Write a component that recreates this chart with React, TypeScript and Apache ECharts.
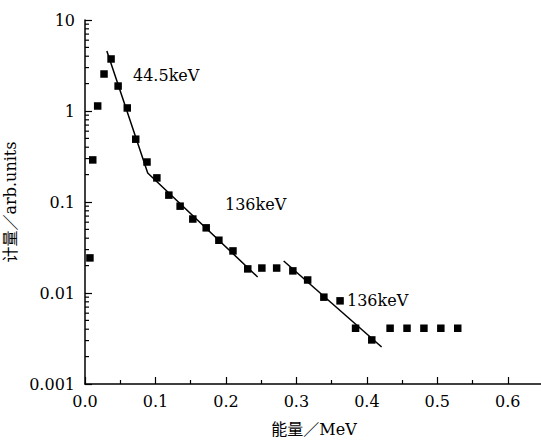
import React, { useEffect, useRef } from "react";
import * as echarts from "echarts";

const energyMeV = [
  0.007, 0.011, 0.018, 0.027, 0.037, 0.047, 0.06, 0.072, 0.088, 0.102,
  0.119, 0.135, 0.153, 0.172, 0.19, 0.21, 0.231, 0.251, 0.272, 0.295,
  0.316, 0.339, 0.362, 0.384, 0.407, 0.433, 0.457, 0.481, 0.505, 0.529,
];
const counts = [
  0.0243, 0.29, 1.135, 2.55, 3.73, 1.88, 1.08, 0.49, 0.275, 0.184,
  0.119, 0.09, 0.065, 0.052, 0.038, 0.029, 0.0184, 0.0188, 0.0188, 0.0175,
  0.0139, 0.009, 0.0082, 0.0041, 0.00305, 0.0041, 0.0041, 0.0041, 0.0041, 0.0041,
];
const fitLow: [number, number][] = [
  [0.031, 4.56],
  [0.089, 0.208],
  [0.245, 0.015],
];
const fitHigh: [number, number][] = [
  [0.282, 0.0225],
  [0.421, 0.00255],
];
const yTickValues = [0.001, 0.01, 0.1, 1, 10];
const yTickLabels = ["0.001", "0.01", "0.1", "1", "10"];
const yMinorTicks: number[] = [];
for (let d = 0; d < 4; d++) {
  for (let k = 2; k <= 9; k++) yMinorTicks.push(k * yTickValues[d]);
}
const annotations = [
  { text: "44.5keV", x: 133, y: 75 },
  { text: "136keV", x: 225, y: 204 },
  { text: "136keV", x: 347, y: 300 },
];

const FONT = "'DejaVu Serif', 'Noto Sans CJK SC', serif";

export default function App() {
  const ref = useRef<HTMLDivElement>(null);
  useEffect(() => {
    if (!ref.current) return;
    const chart = echarts.init(ref.current, null, { renderer: "svg" });
    chart.setOption({
      animation: false,
      backgroundColor: "#fff",
      grid: {
        left: 85,
        top: 20,
        width: 458,
        height: 364,
        containLabel: false,
        outerBoundsMode: "none",
      },
      xAxis: {
        type: "value",
        min: 0,
        max: 0.65,
        interval: 0.1,
        name: "能量／MeV",
        nameLocation: "middle",
        nameGap: 37,
        nameTextStyle: { fontFamily: FONT, fontSize: 16, color: "#000" },
        axisLine: { show: true, onZero: false, lineStyle: { color: "#000", width: 1.5 } },
        axisTick: { show: true, inside: true, length: 7, lineStyle: { color: "#000", width: 1.2 } },
        minorTick: { show: true, splitNumber: 2, length: 4, lineStyle: { color: "#000", width: 1.2 } },
        splitLine: { show: false },
        axisLabel: {
          margin: 9,
          showMaxLabel: false,
          fontFamily: FONT,
          fontSize: 16,
          color: "#000",
          formatter: (v: number) => v.toFixed(1),
        },
      },
      yAxis: {
        type: "log",
        logBase: 10,
        min: 0.001,
        max: 10,
        name: "计量／arb.units",
        nameLocation: "middle",
        nameGap: 61,
        nameTextStyle: { fontFamily: FONT, fontSize: 16, color: "#000" },
        axisLine: { show: true, lineStyle: { color: "#000", width: 1.5 } },
        axisTick: { show: true, inside: true, length: 7, lineStyle: { color: "#000", width: 1.2 } },
        splitLine: { show: false },
        axisLabel: {
          margin: 10,
          fontFamily: FONT,
          fontSize: 16,
          color: "#000",
          formatter: (v: number) => {
            const i = Math.round(Math.log10(v)) + 3;
            return yTickLabels[i] ?? "";
          },
        },
      },
      series: [
        {
          type: "custom",
          clip: false,
          silent: true,
          data: yMinorTicks.map((v) => [0, v]),
          renderItem: (_params: any, api: any) => {
            const p = api.coord([0, api.value(1)]);
            return {
              type: "line",
              shape: { x1: p[0], y1: p[1], x2: p[0] + 4, y2: p[1] },
              style: { stroke: "#000", lineWidth: 1.2 },
            };
          },
        },
        {
          type: "line",
          data: fitLow,
          symbol: "none",
          lineStyle: { color: "#000", width: 1.5 },
        },
        {
          type: "line",
          data: fitHigh,
          symbol: "none",
          lineStyle: { color: "#000", width: 1.5 },
        },
        {
          type: "scatter",
          data: energyMeV.map((x, i) => [x, counts[i]]),
          symbol: "rect",
          symbolSize: 7.5,
          itemStyle: { color: "#000", opacity: 1 },
        },
      ],
      graphic: annotations.map((a) => ({
        type: "text",
        x: a.x,
        y: a.y,
        style: {
          text: a.text,
          fontFamily: FONT,
          fontSize: 16,
          fill: "#000",
          verticalAlign: "middle",
        },
      })),
    });
    return () => chart.dispose();
  }, []);
  return (
    <div
      ref={ref}
      style={{ position: "fixed", left: 0, top: 0, width: 541, height: 443 }}
    />
  );
}
